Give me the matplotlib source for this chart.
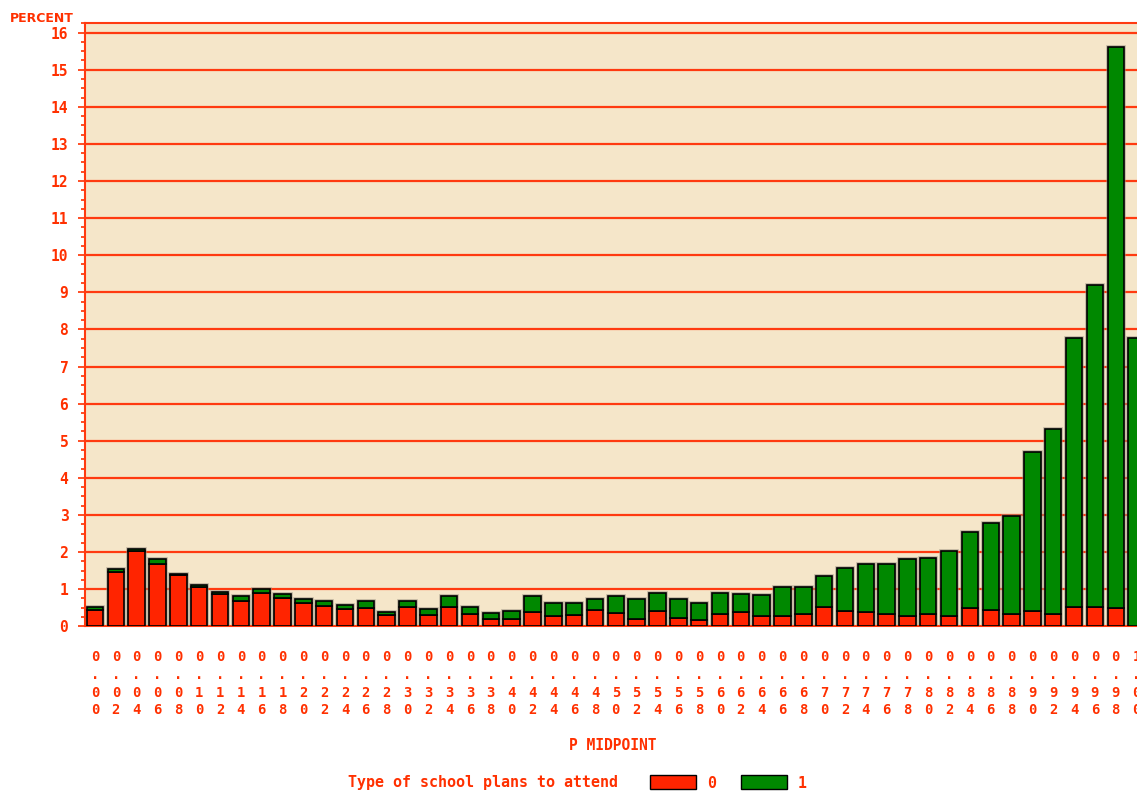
import matplotlib
matplotlib.use("Agg")
import matplotlib.pyplot as plt
from matplotlib.patches import Rectangle

# P midpoints (x categories)
midpoints = [0.00, 0.02, 0.04, 0.06, 0.08, 0.10, 0.12, 0.14, 0.16, 0.18,
             0.20, 0.22, 0.24, 0.26, 0.28, 0.30, 0.32, 0.34, 0.36, 0.38,
             0.40, 0.42, 0.44, 0.46, 0.48, 0.50, 0.52, 0.54, 0.56, 0.58,
             0.60, 0.62, 0.64, 0.66, 0.68, 0.70, 0.72, 0.74, 0.76, 0.78,
             0.80, 0.82, 0.84, 0.86, 0.88, 0.90, 0.92, 0.94, 0.96, 0.98, 1.00]
tick_labels = ["0.00", "0.02", "0.04", "0.06", "0.08", "0.10", "0.12", "0.14", "0.16", "0.18",
               "0.20", "0.22", "0.24", "0.26", "0.28", "0.30", "0.32", "0.34", "0.36", "0.38",
               "0.40", "0.42", "0.44", "0.46", "0.48", "0.50", "0.52", "0.54", "0.56", "0.58",
               "0.60", "0.62", "0.64", "0.66", "0.68", "0.70", "0.72", "0.74", "0.76", "0.78",
               "0.80", "0.82", "0.84", "0.86", "0.88", "0.90", "0.92", "0.94", "0.96", "0.98", "1.00"]

# percent of type 0 (red) and type 1 (green)
pct_type0 = [0.45, 1.45, 2.04, 1.69, 1.39, 1.05, 0.86, 0.68, 0.90, 0.77,
             0.63, 0.55, 0.46, 0.49, 0.31, 0.52, 0.31, 0.52, 0.34, 0.19,
             0.19, 0.38, 0.27, 0.31, 0.44, 0.37, 0.20, 0.41, 0.22, 0.18,
             0.34, 0.38, 0.28, 0.28, 0.32, 0.52, 0.41, 0.38, 0.32, 0.28,
             0.34, 0.28, 0.50, 0.45, 0.32, 0.41, 0.34, 0.52, 0.52, 0.49, 0.02]
pct_type1 = [0.08, 0.09, 0.05, 0.12, 0.01, 0.07, 0.06, 0.13, 0.11, 0.10,
             0.11, 0.12, 0.12, 0.18, 0.08, 0.15, 0.16, 0.29, 0.18, 0.17,
             0.23, 0.43, 0.36, 0.32, 0.30, 0.44, 0.54, 0.50, 0.52, 0.45,
             0.56, 0.48, 0.56, 0.77, 0.73, 0.84, 1.16, 1.29, 1.35, 1.53,
             1.50, 1.74, 2.05, 2.33, 2.66, 4.28, 4.98, 7.25, 8.68, 15.11, 7.75]

RED = "#FF2400"
GREEN = "#008800"
TXT = "#FF3000"
BG = "#F5E6C9"
FONT = "DejaVu Sans Mono"

fig = plt.figure(figsize=(11.37, 7.91), dpi=100)
ax = fig.add_axes([85 / 1137, 164.7 / 791, 1052 / 1137, 603 / 791])
ax.set_facecolor(BG)

width = 0.0158
# soft grey halo behind bars, then the bars themselves
ax.bar(midpoints, [a + b for a, b in zip(pct_type0, pct_type1)], width=width,
       color="none", edgecolor="#9a9080", linewidth=2.6, alpha=0.6, zorder=2)
ax.bar(midpoints, pct_type0, width=width, color=RED, edgecolor="black", linewidth=1.2, zorder=3)
ax.bar(midpoints, pct_type1, width=width, bottom=pct_type0, color=GREEN,
       edgecolor="black", linewidth=1.2, zorder=3)

ax.set_xlim(-0.0096, 1.0004)
ax.set_ylim(0, 16.25)

for v in range(1, 17):
    ax.axhline(v, color="#FF3A10", linewidth=1.6, zorder=1)

ax.set_yticks(range(0, 17))
ax.set_yticks([i * 0.25 for i in range(0, 66)], minor=True)
ax.set_yticklabels([str(v) for v in range(0, 17)], fontfamily=FONT, fontweight="bold",
                   fontsize=10.5, color=TXT)
ax.tick_params(axis="y", which="major", direction="out", length=5, width=1.2, color=TXT, pad=7)
ax.tick_params(axis="y", which="minor", direction="out", length=3, width=1.2, color=TXT)

ax.set_xticks(midpoints)
ax.set_xticklabels(["\n".join(lbl) for lbl in tick_labels], fontfamily=FONT,
                   fontweight="bold", fontsize=10, color=TXT, linespacing=1.35)
ax.tick_params(axis="x", length=0, pad=17)

for side in ["left", "bottom", "top"]:
    ax.spines[side].set_color("#FF3A10")
    ax.spines[side].set_linewidth(1.5)
ax.spines["right"].set_visible(False)

fig.text(10 / 1137, 1 - 19 / 791, "PERCENT", fontfamily="DejaVu Sans", fontweight="bold",
         fontsize=9, color=TXT, va="center", ha="left")
fig.text(613 / 1137, 1 - 746 / 791, "P MIDPOINT", fontfamily=FONT, fontweight="bold",
         fontsize=10.5, color=TXT, va="center", ha="center")

# legend
fig.text(348 / 1137, 1 - 783 / 791, "Type of school plans to attend", fontfamily=FONT,
         fontweight="bold", fontsize=10.8, color=TXT, va="center", ha="left")
for x0, col, lab in [(650, RED, "0"), (741, GREEN, "1")]:
    fig.patches.append(Rectangle((x0 / 1137, 1 - 789 / 791), 46 / 1137, 14 / 791,
                                 transform=fig.transFigure, facecolor=col,
                                 edgecolor="black", linewidth=1.0))
    fig.text((x0 + 57) / 1137, 1 - 783 / 791, lab, fontfamily=FONT, fontweight="bold",
             fontsize=10.8, color=TXT, va="center", ha="left")

fig.savefig("out.png", dpi=100, facecolor="white")
